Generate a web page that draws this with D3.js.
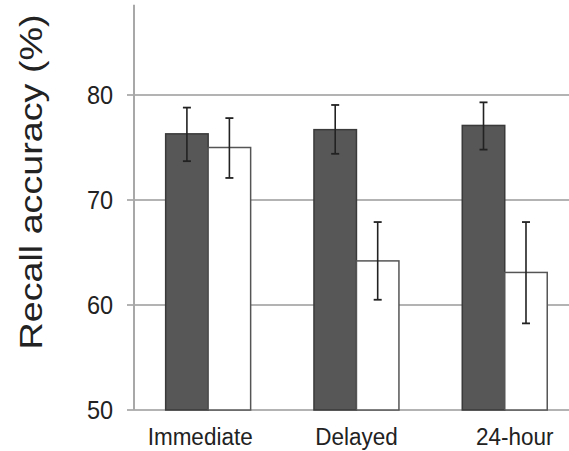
<!DOCTYPE html>
<html>
<head>
<meta charset="utf-8">
<script src="https://cdn.jsdelivr.net/npm/d3@7"></script>
<style>
  body { margin: 0; background: #fff; }
  text { font-family: "Liberation Sans", Arial, sans-serif; fill: #222; }
</style>
</head>
<body>
<div id="chart"></div>
<script>
// data
var categories = ["Immediate", "Delayed", "24-hour"];
var seriesNames = ["dark", "light"];
var darkValues = [76.3, 76.7, 77.1];
var darkHigh = [78.8, 79.05, 79.3];
var darkLow = [73.7, 74.4, 74.8];
var lightValues = [75.0, 64.2, 63.1];
var lightHigh = [77.8, 67.9, 67.9];
var lightLow = [72.1, 60.5, 58.25];
var yTicks = [50, 60, 70, 80];
var yLabel = "Recall accuracy (%)";

var width = 569, height = 451;
var left = 134, right = 569, bottom = 410;
// the labels under the bars are not quite centred in the original
var labelShift = {"Immediate": -8, "Delayed": 0, "24-hour": 10};

var svg = d3.select("#chart").append("svg")
  .attr("width", width)
  .attr("height", height);

var y = d3.scaleLinear().domain([50, 80]).range([bottom, 95]);

var x = d3.scaleBand()
  .domain(categories)
  .range([left, left + 3 * 148.3])
  .paddingInner(0.427)
  .paddingOuter(0.2135);

var xs = d3.scaleBand().domain(seriesNames).range([0, x.bandwidth()]);

// gridlines
svg.append("g").selectAll("line")
  .data(yTicks)
  .enter().append("line")
  .attr("x1", left - 7)
  .attr("x2", right)
  .attr("y1", d => y(d))
  .attr("y2", d => y(d))
  .attr("stroke", "#9a9a9a")
  .attr("stroke-width", 1.6);

// y axis (ticks + labels), domain line drawn separately
var yAxis = d3.axisLeft(y).tickValues(yTicks).tickSize(0).tickPadding(21);
var ya = svg.append("g")
  .attr("transform", `translate(${left},0)`)
  .call(yAxis);
ya.select(".domain").remove();
ya.selectAll("text")
  .style("font-size", "23.5px")
  .attr("fill", "#222")
  .attr("transform", "scale(1,1.11)");

svg.append("line")
  .attr("x1", left).attr("x2", left)
  .attr("y1", y(88.6)).attr("y2", bottom)
  .attr("stroke", "#a8a8a8")
  .attr("stroke-width", 2);

// bars
var rows = categories.map((c, i) => ({
  cat: c,
  vals: [
    {s: "dark", v: darkValues[i], hi: darkHigh[i], lo: darkLow[i]},
    {s: "light", v: lightValues[i], hi: lightHigh[i], lo: lightLow[i]}
  ]
}));

var groups = svg.selectAll(".grp")
  .data(rows)
  .enter().append("g")
  .attr("class", "grp")
  .attr("transform", d => `translate(${x(d.cat)},0)`);

groups.selectAll("rect")
  .data(d => d.vals)
  .enter().append("rect")
  .attr("x", d => xs(d.s))
  .attr("y", d => y(d.v))
  .attr("width", xs.bandwidth())
  .attr("height", d => bottom - y(d.v))
  .attr("fill", d => d.s == "dark" ? "#575757" : "#fff")
  .attr("stroke", d => d.s == "dark" ? "#3a3a3a" : "#555")
  .attr("stroke-width", 1.5);

// error bars
var eb = groups.selectAll(".err")
  .data(d => d.vals)
  .enter().append("g")
  .attr("class", "err")
  .attr("transform", d => `translate(${xs(d.s) + xs.bandwidth() / 2},0)`);

eb.append("line")
  .attr("y1", d => y(d.hi)).attr("y2", d => y(d.lo))
  .attr("stroke", "#222").attr("stroke-width", 1.6);
eb.append("line")
  .attr("x1", -4).attr("x2", 4)
  .attr("y1", d => y(d.hi)).attr("y2", d => y(d.hi))
  .attr("stroke", "#222").attr("stroke-width", 1.8);
eb.append("line")
  .attr("x1", -4).attr("x2", 4)
  .attr("y1", d => y(d.lo)).attr("y2", d => y(d.lo))
  .attr("stroke", "#222").attr("stroke-width", 1.8);

// x axis labels
var xAxis = d3.axisBottom(x).tickSize(0).tickPadding(16);
var xa = svg.append("g")
  .attr("transform", `translate(0,${bottom})`)
  .call(xAxis);
xa.select(".domain").remove();
xa.selectAll("text")
  .style("font-size", "22.5px")
  .attr("fill", "#222")
  .attr("dx", d => labelShift[d])
  .attr("transform", "scale(1,1.1)");

// y label
svg.append("text")
  .attr("transform", "translate(42,182) rotate(-90)")
  .attr("text-anchor", "middle")
  .attr("textLength", 335)
  .attr("lengthAdjust", "spacingAndGlyphs")
  .style("font-size", "32px")
  .text(yLabel);
</script>
</body>
</html>
